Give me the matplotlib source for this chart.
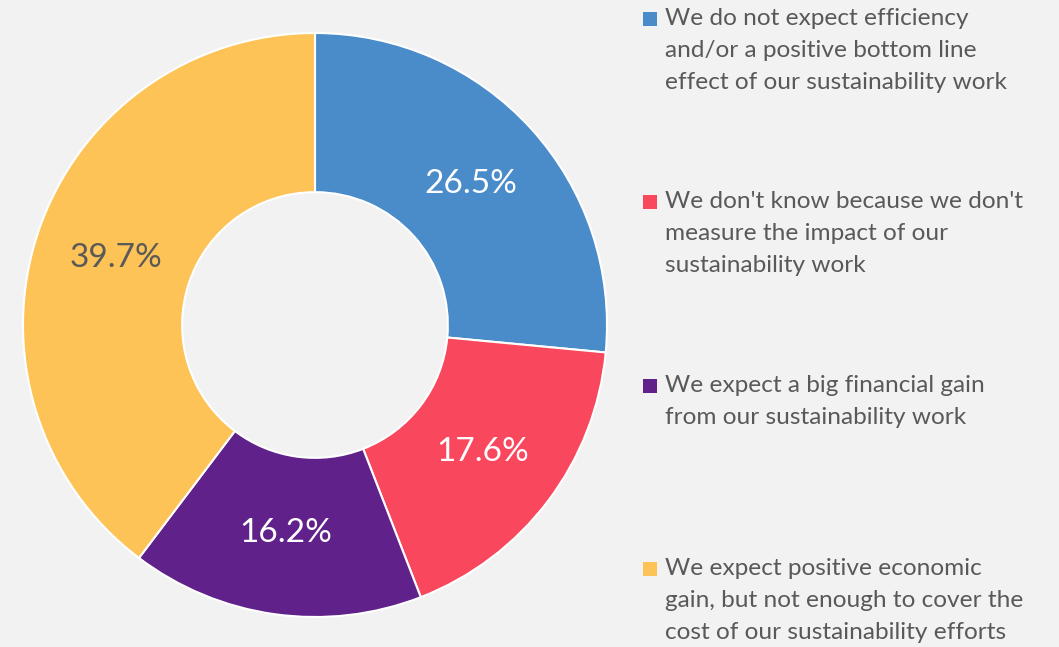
import matplotlib.pyplot as plt
from matplotlib.patches import Rectangle

categories = [
    "We do not expect efficiency\nand/or a positive bottom line\neffect of our sustainability work",
    "We don't know because we don't\nmeasure the impact of our\nsustainability work",
    "We expect a big financial gain\nfrom our sustainability work",
    "We expect positive economic\ngain, but not enough to cover the\ncost of our sustainability efforts",
]
shares = [26.5, 17.6, 16.2, 39.7]
colors = ["#4a8bca", "#f9475e", "#61218a", "#fdc357"]
label_colors = ["white", "white", "white", "#595959"]

BG = "#f2f2f2"
TXT = "#595959"
plt.rcParams["font.family"] = ["Lato", "DejaVu Sans"]

W, H = 1059, 647
fig = plt.figure(figsize=(W / 100, H / 100), dpi=100, facecolor=BG)

# donut: centre (315, 325) px, outer radius 292 px
cx, cy, R = 315, 325, 292
ax = fig.add_axes([(cx - R) / W, (H - cy - R) / H, 2 * R / W, 2 * R / H])
ax.set_facecolor(BG)
wedges, _, autotexts = ax.pie(
    shares, colors=colors, startangle=90, counterclock=False,
    radius=1, autopct="%.1f%%", pctdistance=0.72,
    wedgeprops=dict(width=0.545, edgecolor="white", linewidth=1.5),
    textprops=dict(fontsize=24))
for t, c in zip(autotexts, label_colors):
    t.set_color(c)
ax.set_xlim(-1, 1); ax.set_ylim(-1, 1)
ax.set_aspect("equal")
ax.axis("off")

# legend drawn by hand on the right
tops = [19, 202, 386, 569]
for cat, col, y in zip(categories, colors, tops):
    fig.patches.append(Rectangle((643 / W, (H - y - 7) / H), 14 / W, 14 / H,
                                 transform=fig.transFigure, facecolor=col,
                                 edgecolor="none"))
    fig.text(665 / W, (H - y + 11) / H, cat, fontsize=17.6, color=TXT,
             va="top", ha="left", linespacing=1.64)

fig.savefig("out.png", dpi=100, facecolor=BG)
